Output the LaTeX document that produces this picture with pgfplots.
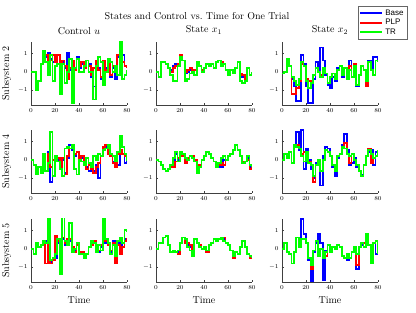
\documentclass[border=0pt]{standalone}
\usepackage{fontspec}
\usepackage{pgfplots}
\usepackage{pgfplotstable}
\pgfplotsset{compat=1.18}
\newfontfamily\legfont{Liberation Sans}

\pgfplotstableread{
t G R B
0 0 0 0
2 0 0 0
4 -1.0 -1.0 -1.0
6 -0.5 -0.5 -0.5
8 0.4 0.4 0.4
10 1.1 0.5 0.6
12 0.5 0.9 0.8
14 -0.2 0.2 1.0
16 0.9 0.6 0.7
18 -0.5 0.9 0.5
20 0.3 0.5 0.6
22 0.4 0.9 0.9
24 -1.2 -0.2 -0.1
26 0.4 0.6 0.5
28 -0.6 0.3 0.2
30 0.0 -0.4 1.0
32 0.7 0.2 0.1
34 -1.7 0.6 0.5
36 0.2 0.1 0.2
38 0.7 0.7 0.8
40 0.0 0.3 0.2
42 0.0 0.5 0.4
44 0.3 0.2 0.3
46 0.6 0.6 0.6
48 0.0 0.3 0.4
50 0.0 -0.2 -0.3
52 -1.5 0.2 -0.8
54 0.3 0.6 0.4
56 0.8 0.1 0.2
58 0.5 -0.3 -0.4
60 -0.7 0.6 0.5
62 0.0 0.1 0.2
64 0.7 0.4 0.3
66 0.5 -0.2 -0.3
68 0.0 0.3 0.2
70 0.3 0.1 -0.4
72 -0.2 0.9 0.8
74 1.6 1.3 1.2
76 -0.4 0.5 0.9
78 -0.2 0.3 0.3
80 0.1 0.2 0.3
}\tA

\pgfplotstableread{
t G R B
0 0 0 0
2 -0.3 -0.3 -0.3
4 0.5 0.5 0.5
6 0.5 0.5 0.5
8 0.4 0.4 0.4
10 0.2 0.2 0.2
12 -0.2 0.0 0.1
14 -0.5 0.2 0.3
16 -0.5 0.3 0.4
18 0.3 0.4 0.4
20 0.8 0.9 0.9
22 0.6 0.6 0.6
24 -0.5 0.0 -0.1
26 -0.4 0.1 0.0
28 -0.1 0.2 0.1
30 0.0 0.0 0.0
32 -0.2 0.1 0.1
34 0.5 0.5 0.5
36 0.3 0.3 0.3
38 0.0 0.1 0.0
40 0.2 0.2 0.2
42 0.4 0.4 0.4
44 0.3 0.3 0.3
46 0.4 0.4 0.4
48 0.2 0.2 0.2
50 0.5 0.5 0.5
52 0.6 0.6 0.6
54 0.3 0.5 0.4
56 0.4 0.4 0.4
58 0.1 0.1 0.1
60 -0.2 -0.1 -0.2
62 0.1 0.1 0.1
64 -0.1 -0.1 -0.1
66 0.2 0.2 0.2
68 0.5 0.5 0.5
70 -0.5 -0.1 -0.2
72 -0.6 -0.2 -0.3
74 -0.5 -0.4 -0.4
76 0.2 0.2 0.2
78 -0.2 -0.2 -0.2
80 0.0 0.0 0.0
}\tB

\pgfplotstableread{
t G R B
0 -0.1 -0.1 -0.1
2 0.0 0.0 0.0
4 0.7 0.7 0.7
6 0.3 0.3 0.3
8 -0.3 -1.2 -0.4
10 -0.5 -1.2 -0.8
12 -0.7 -0.9 -1.6
14 -0.4 -0.5 -1.6
16 0.5 0.4 0.9
18 0.3 0.3 0.4
20 -0.5 -0.4 -0.8
22 -0.9 -0.5 -1.7
24 -0.6 -0.6 -1.7
26 -0.2 -0.2 -0.4
28 0.2 0.2 0.5
30 0.0 0.0 0.0
32 -0.3 -0.2 1.3
34 0.2 0.2 0.6
36 -0.1 -0.1 -0.2
38 -0.6 -0.6 -0.7
40 -0.3 -0.3 -0.9
42 -0.1 -0.1 -0.3
44 -0.4 -0.4 -0.5
46 0.1 0.1 0.2
48 0.3 0.3 0.3
50 -0.2 -0.2 -0.3
52 0.2 0.2 0.2
54 -0.4 -0.4 -0.4
56 0.1 0.3 0.6
58 -0.3 -0.3 -0.3
60 0.3 0.4 0.2
62 -0.7 -0.7 -0.8
64 -0.2 -0.2 -0.2
66 0.3 0.3 0.3
68 0.1 0.1 0.1
70 -0.5 -0.8 -0.5
72 0.5 0.5 0.6
74 0.1 0.1 0.1
76 -0.2 -0.2 0.8
78 0.6 0.6 0.8
80 0.5 0.5 0.5
}\tC

\pgfplotstableread{
t G R B
0 0 0 0
2 -0.3 -0.3 -0.3
4 -0.8 -0.8 -0.8
6 -0.4 -0.4 -0.4
8 -0.7 -0.7 -0.7
10 0.3 0.3 0.3
12 -0.6 -0.6 -0.6
14 -0.2 0.3 0.4
16 1.5 -0.4 -1.2
18 -0.9 0.0 0.0
20 0.2 0.2 0.2
22 -0.1 0.1 0.0
24 -0.5 -0.4 -0.3
26 -0.9 0.1 0.0
28 0.6 -0.8 -0.7
30 0.7 0.2 0.1
32 0.6 0.6 0.8
34 0.8 0.6 0.5
36 -0.5 0.3 0.2
38 -0.8 0.4 0.4
40 0.0 -0.1 -0.1
42 -0.1 0.2 0.1
44 -0.3 -0.2 -0.3
46 0.1 -0.5 -0.4
48 -0.2 -0.3 -0.6
50 -0.4 -0.5 -0.5
52 0.2 -0.7 -0.6
54 0.0 -0.4 -0.3
56 0.3 -0.2 -1.0
58 0.2 0.2 0.2
60 0.5 0.7 0.6
62 0.6 0.8 0.7
64 0.8 0.3 0.4
66 0.3 0.2 0.2
68 0.2 -0.2 -0.1
70 -0.1 -0.4 -0.4
72 0.4 0.3 -0.3
74 1.3 0.5 0.4
76 0.7 0.3 0.3
78 0.3 0.2 -0.2
80 -0.1 0.0 0.0
}\tD

\pgfplotstableread{
t G R B
0 0 0 0
2 -0.1 -0.1 -0.1
4 -0.3 -0.3 -0.3
6 -0.5 -0.5 -0.5
8 -0.6 -0.6 -0.6
10 -0.5 -0.5 -0.5
12 -0.3 -0.4 -0.3
14 0.1 -0.4 0.0
16 0.4 -0.1 0.3
18 -0.1 0.1 0.0
20 0.4 0.3 0.4
22 0.3 0.2 0.2
24 0.1 -0.2 0.0
26 0.0 0.1 0.1
28 0.2 0.2 0.2
30 0.1 0.2 0.2
32 -0.1 0.0 0.0
34 -0.7 -0.5 -0.4
36 -0.4 -0.3 -0.3
38 0.0 0.0 0.0
40 0.2 0.2 0.2
42 0.4 0.4 0.4
44 0.3 0.3 0.3
46 0.1 0.1 0.1
48 -0.1 -0.1 -0.1
50 -0.4 -0.4 -0.4
52 -0.2 -0.3 -0.4
54 0.1 -0.2 -0.4
56 0.2 -0.3 0.0
58 0.0 0.0 0.0
60 0.2 0.2 0.2
62 0.3 0.3 0.3
64 0.5 0.5 0.5
66 0.8 0.8 0.8
68 0.5 0.5 0.5
70 0.2 0.2 0.2
72 -0.2 -0.1 -0.2
74 -0.1 -0.1 -0.1
76 0.2 0.0 0.1
78 -0.3 -0.5 -0.4
80 -0.4 -0.4 -0.4
}\tE

\pgfplotstableread{
t G R B
0 0 0 0
2 0.3 0.3 0.3
4 0.1 0.1 0.1
6 0.4 0.4 0.4
8 -0.2 -0.2 -0.2
10 0.8 0.8 0.8
12 0.7 0.8 1.5
14 0.6 0.6 0.5
16 0.2 0.3 1.6
18 -0.1 0.4 -0.5
20 0.4 0.4 0.6
22 -0.2 -0.1 0.0
24 -0.3 -0.3 -0.5
26 -0.9 -1.2 -1.0
28 -0.3 -0.3 -0.2
30 0.0 0.0 -0.1
32 -0.6 -0.6 -1.4
34 0.0 0.0 0.2
36 0.5 0.5 0.7
38 0.4 0.4 0.6
40 0.2 0.2 0.2
42 -0.3 -0.3 -0.4
44 -0.6 -0.6 -0.9
46 0.2 0.2 0.1
48 0.3 0.3 0.3
50 0.7 0.7 0.8
52 0.6 0.9 1.4
54 0.3 0.3 0.5
56 0.2 -0.2 -0.3
58 0.3 0.3 -0.2
60 0.0 0.0 0.1
62 -0.3 -0.3 -0.4
64 -0.6 -0.6 -0.6
66 -0.9 -0.9 -0.8
68 -0.3 -0.3 -0.3
70 0.2 0.2 0.2
72 0.5 0.6 0.4
74 0.3 -0.2 0.5
76 0.1 0.1 -0.3
78 0.2 0.2 0.4
80 0.5 0.5 0.5
}\tF

\pgfplotstableread{
t G R B
0 0 0 0
2 -0.3 -0.3 -0.3
4 0.3 0.3 0.3
6 0.1 0.1 0.1
8 0.2 0.2 0.2
10 0.4 0.4 0.4
12 0.3 -0.8 0.4
14 1.6 0.3 0.2
16 -0.6 -0.8 -0.7
18 -0.5 -0.6 -0.5
20 -0.3 0.7 -0.5
22 0.5 0.4 0.3
24 -1.4 0.2 0.1
26 1.7 0.6 0.5
28 0.4 0.3 0.2
30 0.2 0.5 0.3
32 1.4 0.5 0.4
34 -0.2 0.1 0.0
36 0.0 -0.2 -0.1
38 0.3 0.2 0.2
40 -0.3 -0.3 -0.3
42 -0.3 -0.2 -0.2
44 -0.5 -0.4 -0.4
46 -0.3 -0.3 -0.3
48 0.1 0.1 0.1
50 0.4 0.2 0.2
52 0.3 0.4 0.3
54 -0.2 0.1 0.0
56 0.2 -0.1 -0.2
58 -0.1 0.2 0.1
60 1.6 0.6 0.5
62 0.5 0.4 0.3
64 0.3 0.2 0.2
66 -0.3 -0.1 -0.2
68 0.2 0.3 0.4
70 -0.4 -0.8 -0.3
72 0.4 0.2 0.3
74 0.6 -0.3 0.2
76 0.3 0.1 0.3
78 1.0 0.4 0.5
80 0.9 0.6 0.6
}\tG

\pgfplotstableread{
t G R B
0 0 0 0
2 0.3 0.3 0.3
4 0.3 0.3 0.3
6 0.6 0.6 0.6
8 0.7 0.7 0.7
10 0.2 0.2 0.2
12 -0.2 -0.2 -0.2
14 -0.1 -0.1 -0.1
16 -0.2 -0.2 -0.2
18 -0.1 -0.3 -0.2
20 0.3 0.3 0.3
22 0.6 0.6 0.6
24 0.5 0.3 0.4
26 0.1 0.3 0.2
28 -0.1 0.2 0.1
30 -0.4 -0.1 -0.2
32 0.5 0.5 0.5
34 0.3 0.3 0.3
36 0.1 0.2 0.2
38 0.0 0.0 0.0
40 0.1 0.1 0.1
42 -0.1 -0.2 -0.1
44 0.2 0.2 0.2
46 0.3 0.3 0.3
48 0.5 0.5 0.5
50 0.4 0.4 0.4
52 0.5 0.5 0.5
54 0.6 0.6 0.6
56 0.4 0.6 0.5
58 0.3 0.3 0.3
60 0.2 0.2 0.2
62 -0.1 -0.1 -0.1
64 -0.4 -0.5 -0.3
66 -0.2 -0.2 -0.2
68 -0.3 -0.3 -0.3
70 0.1 0.1 0.1
72 0.4 0.4 0.4
74 0.1 0.1 0.1
76 -0.3 -0.3 -0.3
78 -0.4 -0.5 -0.5
80 -0.5 -0.5 -0.5
}\tH

\pgfplotstableread{
t G R B
0 0 0 0
2 0.3 0.3 0.3
4 -0.2 -0.2 -0.2
6 -0.3 -0.3 -0.3
8 -0.8 -0.8 -0.8
10 -0.2 -0.2 -0.2
12 0.6 0.6 0.6
14 0.1 0.1 0.2
16 0.5 0.5 1.6
18 0.5 0.5 0.8
20 0.3 0.3 0.3
22 -0.5 -0.5 -0.6
24 -0.9 -1.1 -1.75
26 -0.1 -0.1 -0.2
28 0.4 0.4 0.3
30 -0.4 -0.4 0.8
32 0.0 0.0 0.3
34 -0.5 -0.5 -1.7
36 -0.2 -0.4 -0.1
38 0.2 0.2 0.2
40 -0.2 -0.2 0.1
42 0.1 0.1 0.1
44 0.0 0.0 0.0
46 0.2 0.2 0.2
48 0.1 0.1 0.1
50 -0.4 -0.4 -0.4
52 -0.5 -0.5 -0.5
54 -0.3 -0.3 -0.6
56 -0.5 -0.5 -0.5
58 -0.2 -0.2 -0.2
60 0.1 0.1 0.1
62 -0.3 -0.9 -1.1
64 0.1 0.1 0.1
66 0.3 0.3 0.2
68 0.1 0.3 0.1
70 0.8 0.7 0.6
72 0.2 0.2 0.2
74 -0.8 -0.8 -0.8
76 0.3 0.3 0.3
78 0.4 0.4 -0.3
80 -0.3 -0.3 -0.3
}\tI

\pgfplotsset{
  panel/.style={
    scale only axis, width=96pt, height=63pt,
    xmin=0, xmax=80, ymin=-1.8, ymax=1.6,
    axis x line*=bottom, axis y line*=left,
    axis line style={-, black!75, line width=0.5pt},
    xtick={0,20,40,60,80}, ytick={-1,0,1},
    tick align=inside, major tick length=2pt,
    tick style={black!75},
    tick label style={font=\fontsize{6.5}{7}\selectfont},
    title style={font=\fontsize{10}{12}\selectfont, yshift=-2pt},
    label style={font=\fontsize{10}{12}\selectfont},
    every axis plot/.append style={const plot, line width=1.8pt, no marks},
  },
}
\newcommand{\panelplots}[1]{%
  \addplot[blue] table[x=t,y=B]{#1};
  \addplot[red] table[x=t,y=R]{#1};
  \addplot[green] table[x=t,y=G]{#1};
}

\begin{document}
\begin{tikzpicture}
\useasboundingbox (0,0) rectangle (416pt,313pt);
\node[font=\fontsize{10}{12}\selectfont] at (197pt,297pt) {States and Control vs.\ Time for One Trial};

% Row 1
\begin{axis}[panel, at={(31pt,208pt)}, anchor=south west, title={Control $u$}, ylabel={Subsystem 2}]
\panelplots{\tA}
\end{axis}
\begin{axis}[panel, at={(156pt,208pt)}, anchor=south west, title={State $x_1$}]
\panelplots{\tB}
\end{axis}
\begin{axis}[panel, at={(282pt,208pt)}, anchor=south west, title={State $x_2$},
  legend style={at={(0.79,1.571)}, anchor=north west, font=\legfont\fontsize{8}{9}\selectfont,
    draw=black!60, fill=white, inner sep=1.5pt, row sep=-1.5pt},
  legend cell align=left,
  legend image code/.code={\draw[#1, line width=1.8pt] (0pt,0pt) -- (22pt,0pt);}]
\panelplots{\tC}
\legend{Base,PLP,TR}
\end{axis}

% Row 2
\begin{axis}[panel, at={(31pt,120pt)}, anchor=south west, ylabel={Subsystem 4}]
\panelplots{\tD}
\end{axis}
\begin{axis}[panel, at={(156pt,120pt)}, anchor=south west]
\panelplots{\tE}
\end{axis}
\begin{axis}[panel, at={(282pt,120pt)}, anchor=south west]
\panelplots{\tF}
\end{axis}

% Row 3
\begin{axis}[panel, at={(31pt,31pt)}, anchor=south west, ylabel={Subsystem 5}, xlabel={Time}]
\panelplots{\tG}
\end{axis}
\begin{axis}[panel, at={(156pt,31pt)}, anchor=south west, xlabel={Time}]
\panelplots{\tH}
\end{axis}
\begin{axis}[panel, at={(282pt,31pt)}, anchor=south west, xlabel={Time}]
\panelplots{\tI}
\end{axis}
\end{tikzpicture}
\end{document}
